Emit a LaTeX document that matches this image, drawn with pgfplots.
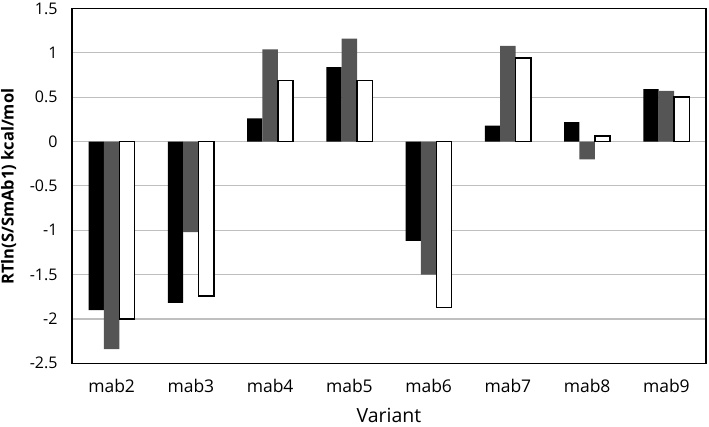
\documentclass[border=0pt]{standalone}
\usepackage{fontspec}
\setmainfont{Open Sans}
\usepackage{pgfplots}
\pgfplotsset{compat=1.18}
\definecolor{darkgraybar}{HTML}{555555}
\definecolor{gridgray}{HTML}{BFBFBF}
\begin{document}
\begin{tikzpicture}
\begin{axis}[
  scale only axis,
  width=634bp, height=354.8bp,
  ybar=0pt, bar width=15.3bp,
  xmin=-0.5, xmax=7.5,
  ymin=-2.5, ymax=1.5,
  xtick={0,...,7},
  xticklabels={mab2,mab3,mab4,mab5,mab6,mab7,mab8,mab9},
  ytick={-2.5,-2,-1.5,-1,-0.5,0,0.5,1,1.5},
  yticklabels={-2.5,-2,-1.5,-1,-0.5,0,0.5,1,1.5},
  major tick length=0pt,
  ymajorgrids,
  grid style={gridgray, line width=1.2bp},
  axis line style={black, line width=1.3bp},
  x tick label style={font=\fontsize{17.5bp}{19bp}\selectfont, yshift=-12bp},
  y tick label style={font=\fontsize{16bp}{18bp}\selectfont, xshift=-11bp},
  xlabel={Variant},
  xlabel style={font=\fontsize{19.5bp}{21bp}\selectfont, at={(axis description cs:0.5,0)}, anchor=center, yshift=-52bp},
  ylabel={RTln(S/SmAb1) kcal/mol},
  ylabel style={font=\bfseries\fontsize{16.5bp}{18bp}\selectfont, at={(axis description cs:-0.1,0.498)}, anchor=center, rotate=0},
]
\addplot[fill=black, draw=none] coordinates {(0,-1.90) (1,-1.82) (2,0.26) (3,0.84) (4,-1.12) (5,0.18) (6,0.22) (7,0.59)};
\addplot[fill=darkgraybar, draw=none] coordinates {(0,-2.34) (1,-1.02) (2,1.04) (3,1.16) (4,-1.50) (5,1.08) (6,-0.20) (7,0.57)};
\addplot[fill=white, draw=black, line width=1.5bp] coordinates {(0,-2.00) (1,-1.74) (2,0.69) (3,0.69) (4,-1.87) (5,0.94) (6,0.06) (7,0.50)};
\end{axis}
\pgfresetboundingbox
\path[use as bounding box] (-72bp,-63.7bp) rectangle (637bp,363.3bp);
\end{tikzpicture}
\end{document}
